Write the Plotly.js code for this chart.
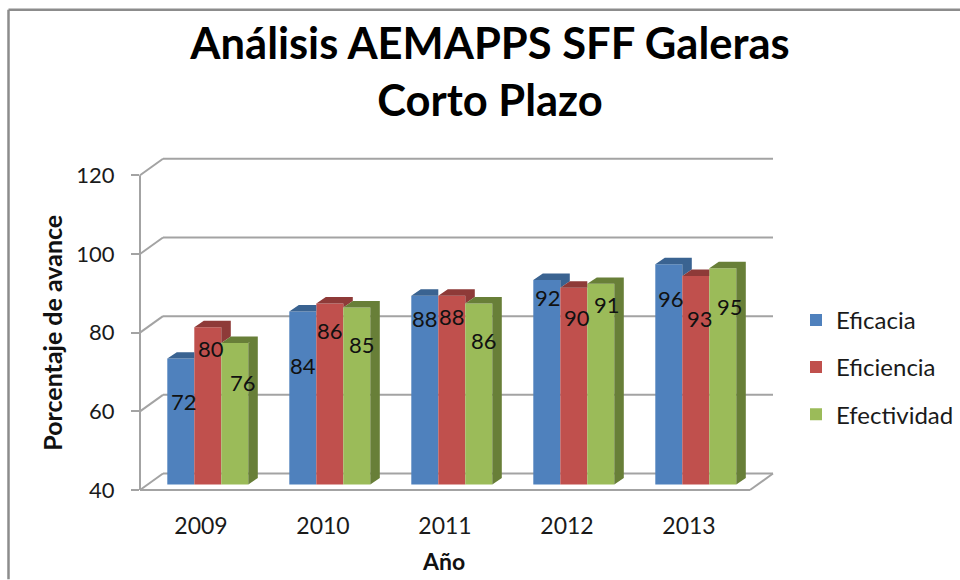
<!DOCTYPE html>
<html>
<head>
<meta charset="utf-8">
<script src="https://cdn.plot.ly/plotly-3.0.1.min.js"></script>
<style>html,body{margin:0;padding:0;background:#fff}</style>
</head>
<body>
<div id="chart" style="width:960px;height:580px"></div>
<script>
// Data
const years = ["2009", "2010", "2011", "2012", "2013"];
const eficacia = [72, 84, 88, 92, 96];
const eficiencia = [80, 86, 88, 90, 93];
const efectividad = [76, 85, 86, 91, 95];
const seriesNames = ["Eficacia", "Eficiencia", "Efectividad"];
const yTicks = [40, 60, 80, 100, 120];

// Colours
const frontColors = ["#4F81BD", "#C0504D", "#9BBB59"];
const shadeColors = ["#3A6391", "#8E3A38", "#687F38"];
const gridColor = "#A3A3A3";
const inkColor = "#1a1a1a";

// Where Excel happened to leave each data label (value-axis units / px nudge)
const labelHeights = [
  [61.1, 70.2, 82.1, 87.5, 87.2],
  [74.5, 79.1, 82.6, 82.4, 82.1],
  [65.9, 75.5, 76.5, 85.7, 85.2]
];
const labelNudges = [
  [3, 0, 0, 1, 2],
  [3, 0, 0, 3, 4],
  [8, 5, 5, 6, 7]
];

// Layout geometry in pixels
const W = 960, H = 580;
const plotL = 140, plotR = 773, plotT = 159, plotB = 490.5;
const pxPerCat = 122, pxPerUnit = 3.94;
const wallDX = 23, wallDY = 16.5;      // depth of the chart box
const barDX = 9.5, barDY = 6.5;        // depth of a bar
const barShiftX = 6.8, barShiftY = 5.5; // bars stand a little inside the floor
const barPx = 27;

const values = [eficacia, eficiencia, efectividad];
const xRange = [-0.5, -0.5 + (plotR - plotL) / pxPerCat];
const yRange = [40, 40 + (plotB - plotT) / pxPerUnit];
const x2Range = xRange.map(v => v - barShiftX / pxPerCat);
const y2Range = yRange.map(v => v - barShiftY / pxPerUnit);
const bx = barDX / pxPerCat, by = barDY / pxPerUnit, bw = barPx / pxPerCat;
const wx = wallDX / pxPerCat, wy = wallDY / pxPerUnit;
const xIdx = years.map((_, i) => i);

const traces = [];
// Front faces
values.forEach((vals, s) => {
  traces.push({
    type: "bar", name: seriesNames[s], x: xIdx, y: vals.map(v => v - 40), base: 40,
    xaxis: "x2", yaxis: "y2", legendgroup: seriesNames[s],
    marker: {color: frontColors[s], line: {width: 0}},
    hovertext: vals.map(String), hoverinfo: "name+text"
  });
});
// Top and side faces, worked out from the values
values.forEach((vals, s) => {
  const px = [], py = [];
  vals.forEach((v, c) => {
    const xl = c + (s - 1.5) * bw, xr = xl + bw;
    const next = s < 2 ? values[s + 1][c] : null;
    const hiddenTop = next !== null && next >= v;
    const topR = hiddenTop ? xr : xr + bx;
    px.push(xl, xl + bx, topR, xr, xl, null);
    py.push(v, v + by, v + by, v, v, null);
    if (!hiddenTop) {
      const foot = next === null ? 40 : next;
      px.push(xr, xr + bx, xr + bx, xr, xr, null);
      py.push(foot, foot + by, v + by, v, foot, null);
    }
  });
  traces.push({
    type: "scatter", mode: "lines", x: px, y: py, xaxis: "x2", yaxis: "y2",
    fill: "toself", fillcolor: shadeColors[s], line: {width: 0},
    showlegend: false, hoverinfo: "skip"
  });
});

// Helpers: picture pixels to paper fractions (paper shapes are not clipped at the plot edge)
const px2 = x => (x - plotL) / (plotR - plotL);
const py2 = y => (plotB - y) / (plotB - plotT);
const valY = v => py2(plotB - (v - 40) * pxPerUnit);
const lineShape = (x0, y0, x1, y1) => ({
  type: "line", layer: "below", xref: "paper", yref: "paper", x0, y0, x1, y1,
  line: {color: gridColor, width: 2}
});
const axisLine = (x0, y0, x1, y1) => ({
  type: "line", layer: "below", xref: "x", yref: "y", x0, y0, x1, y1,
  line: {color: gridColor, width: 2}
});

// Box: wall gridlines, floor, vertical axis
const backL = px2(plotL + wallDX), backR = px2(plotR), frontL = px2(plotL), frontR = px2(plotR - wallDX);
const depth = wallDY / (plotB - plotT);
const shapes = [];
yTicks.forEach(v => {
  shapes.push(lineShape(frontL, valY(v), backL, valY(v) + depth));
  if (v === 120) {
    shapes.push(lineShape(backL, valY(v) + depth, backR, valY(v) + depth));
  } else {
    shapes.push(axisLine(xRange[0] + wx, v + wy, xRange[1], v + wy));
  }
});
shapes.push(lineShape(frontL, valY(40), frontR, valY(40)));
shapes.push(lineShape(frontR, valY(40), backR, valY(40) + depth));
shapes.push(lineShape(frontL, valY(40), frontL, valY(120)));
// Outer frame of the picture (runs off the right and bottom edges)
const frame = {color: "#8C8C8C", width: 2.5};
shapes.push({type: "line", xref: "paper", yref: "paper", x0: px2(8.5), x1: px2(8.5), y0: py2(9.5), y1: py2(H), line: frame});
shapes.push({type: "line", xref: "paper", yref: "paper", x0: px2(8.5), x1: px2(W), y0: py2(9.5), y1: py2(9.5), line: frame});

// Data labels and axis titles
const annotations = [];
values.forEach((vals, s) => {
  vals.forEach((v, c) => {
    annotations.push({
      xref: "x2", yref: "y2", showarrow: false, text: String(v),
      x: c + (s - 1) * bw + labelNudges[s][c] / pxPerCat, y: labelHeights[s][c],
      font: {family: "Lato, sans-serif", size: 22, color: "#111"}
    });
  });
});
annotations.push({xref: "paper", yref: "paper", showarrow: false, text: "<b>Año</b>",
  xanchor: "center", yanchor: "middle",
  x: px2(443), y: py2(562), font: {family: "Lato, sans-serif", size: 23, color: "#111"}});
annotations.push({xref: "paper", yref: "paper", showarrow: false, text: "<b>Porcentaje de avance</b>",
  textangle: -90, xanchor: "center", yanchor: "middle",
  x: px2(52), y: py2(333), font: {family: "Lato, sans-serif", size: 25, color: "#111"}});

const layout = {
  width: W, height: H, paper_bgcolor: "#fff", plot_bgcolor: "#fff",
  margin: {l: plotL, r: W - plotR, t: plotT, b: H - plotB, pad: 0, autoexpand: false},
  font: {family: "Lato, sans-serif", color: inkColor},
  title: {
    text: "<b>Análisis AEMAPPS SFF Galeras<br>Corto Plazo</b>",
    font: {family: "Lato, sans-serif", size: 43.5, color: "#000"},
    x: 490 / W, xanchor: "center", y: 1 - 59 / H, yanchor: "middle"
  },
  barmode: "group", bargap: 1 - 3 * bw, bargroupgap: 0,
  xaxis: {
    range: xRange, tickmode: "array", tickvals: xIdx, ticktext: years,
    showgrid: false, zeroline: false, showline: false, ticks: "",
    ticklabelstandoff: 20, tickfont: {size: 23, color: inkColor}, fixedrange: true
  },
  yaxis: {
    range: yRange, tickmode: "array", tickvals: yTicks,
    showgrid: false, zeroline: false, showline: false,
    ticks: "outside", ticklen: 8, tickwidth: 2, tickcolor: gridColor,
    ticklabelstandoff: 12, tickfont: {size: 22, color: inkColor}, fixedrange: true
  },
  xaxis2: {range: x2Range, overlaying: "x", visible: false, fixedrange: true},
  yaxis2: {range: y2Range, overlaying: "y", visible: false, fixedrange: true},
  legend: {
    x: px2(796), xanchor: "left",
    y: py2(298), yanchor: "top",
    tracegroupgap: 13, traceorder: "grouped", bgcolor: "rgba(0,0,0,0)",
    font: {family: "Lato, sans-serif", size: 24, color: inkColor}
  },
  shapes, annotations, showlegend: true
};

Plotly.newPlot("chart", traces, layout, {displayModeBar: false}).then(() => {
  // Legend swatches are a little larger than Plotly's default bar swatch
  document.querySelectorAll("#chart path.legendbar").forEach(p => {
    p.setAttribute("transform", (p.getAttribute("transform") || "") + " scale(1.3)");
  });
});
</script>
</body>
</html>
